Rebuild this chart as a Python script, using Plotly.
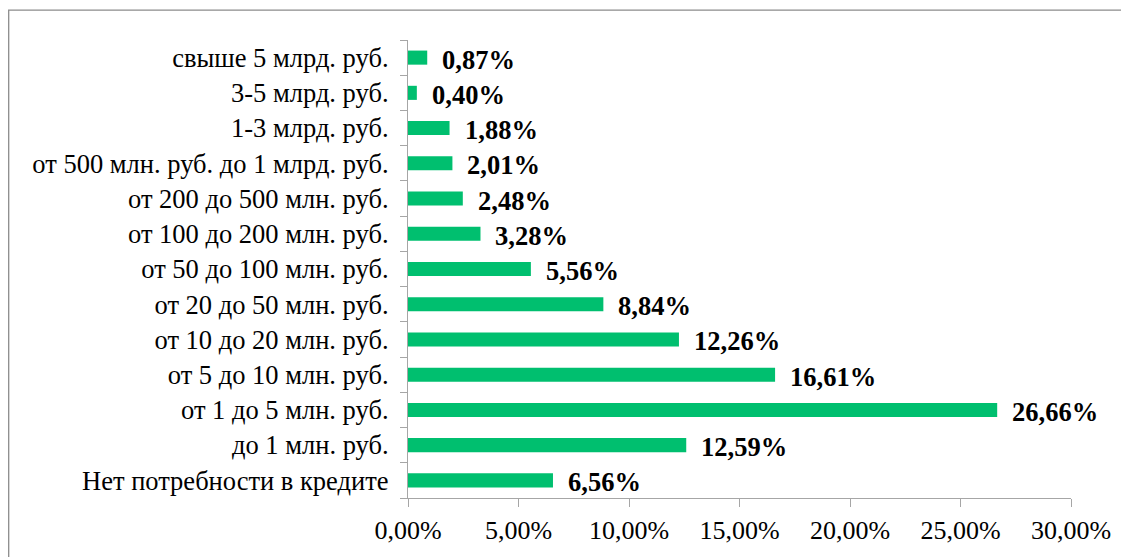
import plotly.graph_objects as go

categories = [
    "Нет потребности в кредите",
    "до 1 млн. руб.",
    "от 1 до 5 млн. руб.",
    "от 5 до 10 млн. руб.",
    "от 10 до 20 млн. руб.",
    "от 20 до 50 млн. руб.",
    "от 50 до 100 млн. руб.",
    "от 100 до 200 млн. руб.",
    "от 200 до 500 млн. руб.",
    "от 500 млн. руб. до 1 млрд. руб.",
    "1-3 млрд. руб.",
    "3-5 млрд. руб.",
    "свыше 5 млрд. руб.",
]
values_pct = [6.56, 12.59, 26.66, 16.61, 12.26, 8.84, 5.56, 3.28, 2.48, 2.01, 1.88, 0.40, 0.87]
labels = [f"{v:.2f}%".replace(".", ",") for v in values_pct]
x_ticks = [0, 0.05, 0.10, 0.15, 0.20, 0.25, 0.30]

values = [v / 100 for v in values_pct]

SERIF = "Liberation Serif"

# page body has an 8px margin, so the figure is offset by 8px
W, H = 1121, 549
L, R, T, B = 400, 58, 32, 57
pw, ph = W - L - R, H - T - B

fig = go.Figure()
fig.add_trace(go.Bar(
    x=values, y=categories, orientation="h",
    marker=dict(color="#00BF6F", line=dict(width=0)),
    hoverinfo="skip",
))

for v, c, t in zip(values, categories, labels):
    fig.add_annotation(
        x=v, y=c, text=f"<b>{t}</b>", showarrow=False, xanchor="left", yanchor="middle",
        xshift=13, yshift=-2,
        font=dict(family=SERIF, size=26.5, color="#000000"),
    )

axis_color = "#A6A6A6"
fig.update_layout(
    width=W, height=H,
    margin=dict(l=L, r=R, t=T, b=B, pad=0),
    paper_bgcolor="white", plot_bgcolor="white",
    separators=", ",
    bargap=0.6,
    showlegend=False,
    font=dict(family=SERIF, size=20, color="#000000"),
    xaxis=dict(
        range=[0, 0.30], tickvals=x_ticks, tickformat=".2%",
        showgrid=False, zeroline=False,
        showline=True, linecolor=axis_color, linewidth=1.3,
        ticks="outside", ticklen=8, tickcolor=axis_color, tickwidth=1.3,
        tickfont=dict(family=SERIF, size=26, color="#000000"),
        ticklabelstandoff=1,
    ),
    yaxis=dict(
        type="category", categoryorder="array", categoryarray=categories,
        range=[-0.5, len(categories) - 0.5],
        showgrid=False, zeroline=False,
        showline=True, linecolor=axis_color, linewidth=1.3,
        ticks="outside", ticklen=7, tickcolor=axis_color, tickwidth=1.3,
        tickson="boundaries",
        tickfont=dict(family=SERIF, size=26.5, color="#000000"),
        ticklabelstandoff=13,
    ),
)

# outer chart border
fig.add_shape(
    type="rect", xref="paper", yref="paper",
    x0=(0.7 - L) / pw, x1=(W - 1.5 - L) / pw,
    y0=-(B + 10) / ph, y1=(H - B - 2) / ph,
    line=dict(color="#8C8C8C", width=1.3), fillcolor="rgba(0,0,0,0)", layer="below",
)

fig.write_html("out.html")
